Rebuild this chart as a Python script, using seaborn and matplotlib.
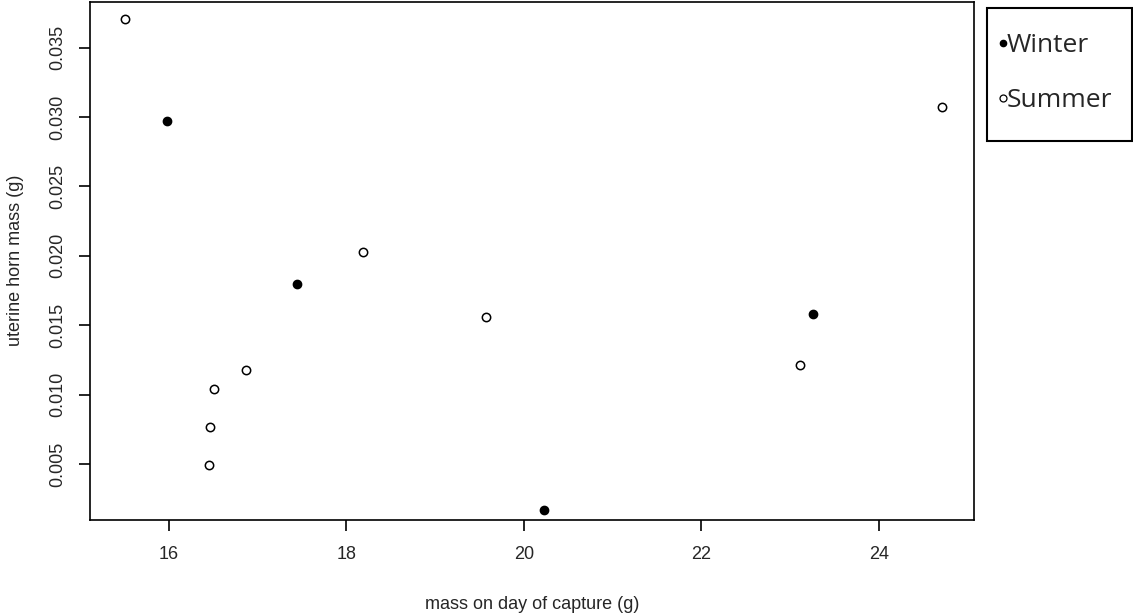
import numpy as np
import pandas as pd
import matplotlib
matplotlib.use("Agg")
import matplotlib.pyplot as plt
import seaborn as sns
from matplotlib.lines import Line2D
from matplotlib.patches import Rectangle

# ---- data ----
winter_mass = [15.98, 17.45, 20.23, 23.26]
winter_uterine = [0.0297, 0.0180, 0.0017, 0.0158]
summer_mass = [15.51, 16.45, 16.46, 16.51, 16.87, 18.19, 19.57, 23.11, 24.71]
summer_uterine = [0.0371, 0.0049, 0.0077, 0.0104, 0.0118, 0.0203, 0.0156, 0.0121, 0.0307]
season_labels = ["Winter", "Summer"]
x_ticks = [16, 18, 20, 22, 24]
y_ticks = [0.005, 0.010, 0.015, 0.020, 0.025, 0.030, 0.035]

df = pd.DataFrame({
    "mass": winter_mass + summer_mass,
    "uterine": winter_uterine + summer_uterine,
    "season": ["Winter"] * len(winter_mass) + ["Summer"] * len(summer_mass),
})

sns.set_style("ticks")
plt.rcParams["font.family"] = ["Liberation Sans", "DejaVu Sans"]

W, H = 1133, 614
fig = plt.figure(figsize=(W / 100, H / 100), dpi=100)
ax = fig.add_axes([90 / W, 1 - 519.5 / H, (974 - 90) / W, (519.5 - 2) / H])

sns.scatterplot(data=df[df.season == "Winter"], x="mass", y="uterine", ax=ax,
                color="black", edgecolor="black", linewidth=1.0, s=36, marker="o")
sns.scatterplot(data=df[df.season == "Summer"], x="mass", y="uterine", ax=ax,
                facecolor="white", edgecolor="black", linewidth=1.1, s=36, marker="o")

ax.set_xlim(15.114, 25.069)
ax.set_ylim(0.0010, 0.03829)
ax.set_xticks(x_ticks)
ax.set_xticklabels([str(t) for t in x_ticks], fontsize=13)
ax.set_yticks(y_ticks)
ax.set_yticklabels([f"{t:.3f}" for t in y_ticks], fontsize=13, rotation=90, va="center")
ax.tick_params(axis="both", direction="out", length=8, width=1.2, color="black")
ax.tick_params(axis="x", pad=11)
ax.tick_params(axis="y", pad=9)
for sp in ax.spines.values():
    sp.set_visible(True)
    sp.set_color("black")
    sp.set_linewidth(1.2)

ax.set_xlabel("mass on day of capture (g)", fontsize=13, labelpad=24)
ax.set_ylabel("uterine horn mass (g)", fontsize=13, labelpad=18)

# legend box outside the plot (drawn as a figure rectangle)
fig.patches.append(Rectangle((987 / W, 1 - 141 / H), (1131.5 - 987) / W, (141 - 8) / H,
                             transform=fig.transFigure, fill=False,
                             edgecolor="black", linewidth=1.5))

handles = [
    Line2D([], [], linestyle="none", marker="o", markersize=4.5,
           markerfacecolor="black", markeredgecolor="black"),
    Line2D([], [], linestyle="none", marker="o", markersize=5,
           markerfacecolor="white", markeredgecolor="black", markeredgewidth=0.9),
]
leg = fig.legend(handles, season_labels, loc="upper left",
                 bbox_to_anchor=(999.7 / W, 1 - 33.4 / H),
                 frameon=False,
                 prop={"family": ["Open Sans", "DejaVu Sans"], "size": 19},
                 handlelength=0.25, handletextpad=0.0, labelspacing=1.14,
                 borderpad=0.0, borderaxespad=0.0)

fig.savefig("out.png", dpi=100)
